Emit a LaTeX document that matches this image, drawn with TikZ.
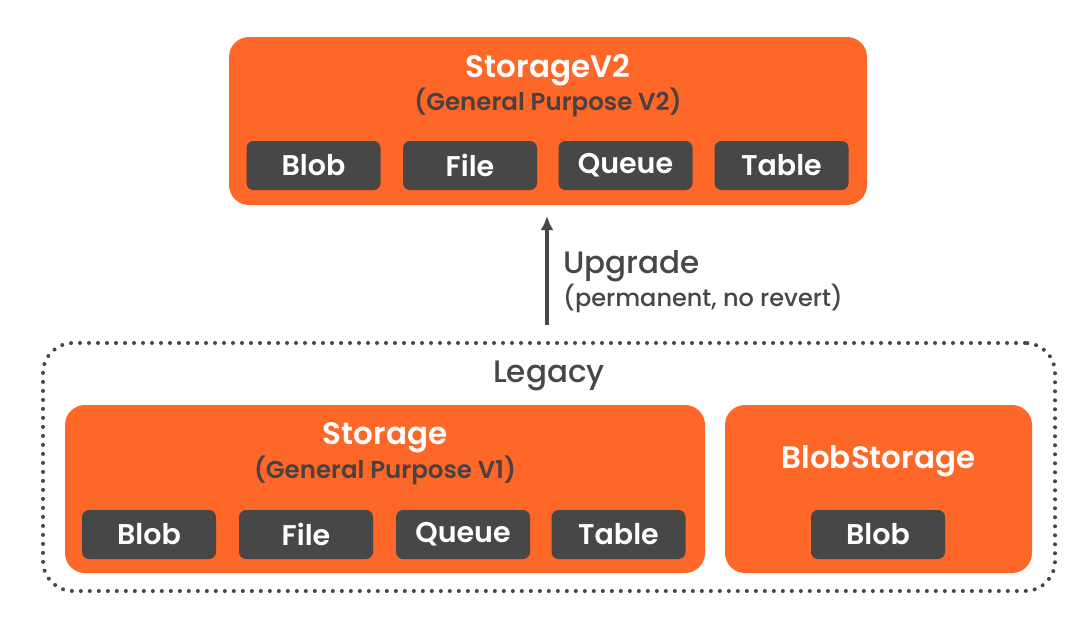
\documentclass[tikz,border=0pt]{standalone}
\usepackage{fontspec}
\setmainfont{Poppins}[BoldFont={Poppins SemiBold}]
\newfontfamily\medfont{Poppins Medium}
\usetikzlibrary{arrows.meta}
\begin{document}
\begin{tikzpicture}[x=1pt,y=-1pt,
  outer/.style={fill=orgc, rounded corners=20pt},
  inner/.style={fill=darkc, rounded corners=7pt, minimum width=134pt, minimum height=49pt, inner sep=0pt, text=white, font=\fontsize{28.5}{31}\selectfont\bfseries},
  ttl/.style={text=white, font=\fontsize{31}{34}\selectfont\bfseries, inner sep=0pt},
  sub/.style={text=subc, font=\fontsize{24.5}{27}\selectfont\bfseries, inner sep=0pt},
  note/.style={text=darkc, font=\fontsize{24}{27}\selectfont\medfont\mdseries, inner sep=0pt},
  lbl/.style={text=darkc, font=\fontsize{31}{34}\selectfont\medfont\mdseries, inner sep=0pt}]
\definecolor{orgc}{HTML}{FD6727}
\definecolor{darkc}{HTML}{474747}
\definecolor{subc}{HTML}{4D4040}
\useasboundingbox (0,0) rectangle (1091,627);
\fill[white] (0,0) rectangle (1091,627);
% top box
\node[outer, minimum width=638pt, minimum height=168pt, inner sep=0pt] (v2) at (548,121) {};
\node[ttl] (v2t) at (548,70) {StorageV2};
\node[sub] (v2s) at (548,102) {(General Purpose V2)};
\node[inner] (b1) at (313.5,165.5) {Blob};
\node[inner] (f1) at (470,165.5) {File};
\node[inner] (q1) at (625.5,165.5) {Queue};
\node[inner] (t1) at (781.5,165.5) {Table};
% legacy dotted
\node[draw=darkc, line width=4pt, dash pattern=on 0pt off 9pt, line cap=round, rounded corners=30pt, minimum width=1012pt, minimum height=248pt, inner sep=0pt] (leg) at (549,467) {};
\node[lbl] (legt) at (549,376) {Legacy};
% storage v1
\node[outer, minimum width=640pt, minimum height=168pt, inner sep=0pt] (v1) at (385,489) {};
\node[ttl] (v1t) at (385,438) {Storage};
\node[sub] (v1s) at (385,470) {(General Purpose V1)};
\node[inner] (b2) at (149,534.5) {Blob};
\node[inner] (f2) at (306,534.5) {File};
\node[inner] (q2) at (463,534.5) {Queue};
\node[inner] (t2) at (618.5,534.5) {Table};
% blob storage
\node[outer, minimum width=307pt, minimum height=168pt, inner sep=0pt] (bs) at (878.5,489) {};
\node[ttl] (bst) at (878.5,461) {BlobStorage};
\node[inner] (b3) at (878,534.5) {Blob};
% arrow
\coordinate (a0) at (547,325);
\coordinate (a1) at (547,216);
\draw[darkc, line width=3.5pt, -{Latex[length=14pt,width=13pt]}] (a0) -- (a1);
\node[lbl, anchor=west] (up) at (563,266) {Upgrade};
\node[note, anchor=west] (ups) at (563,298) {(permanent, no revert)};
\end{tikzpicture}
\end{document}
